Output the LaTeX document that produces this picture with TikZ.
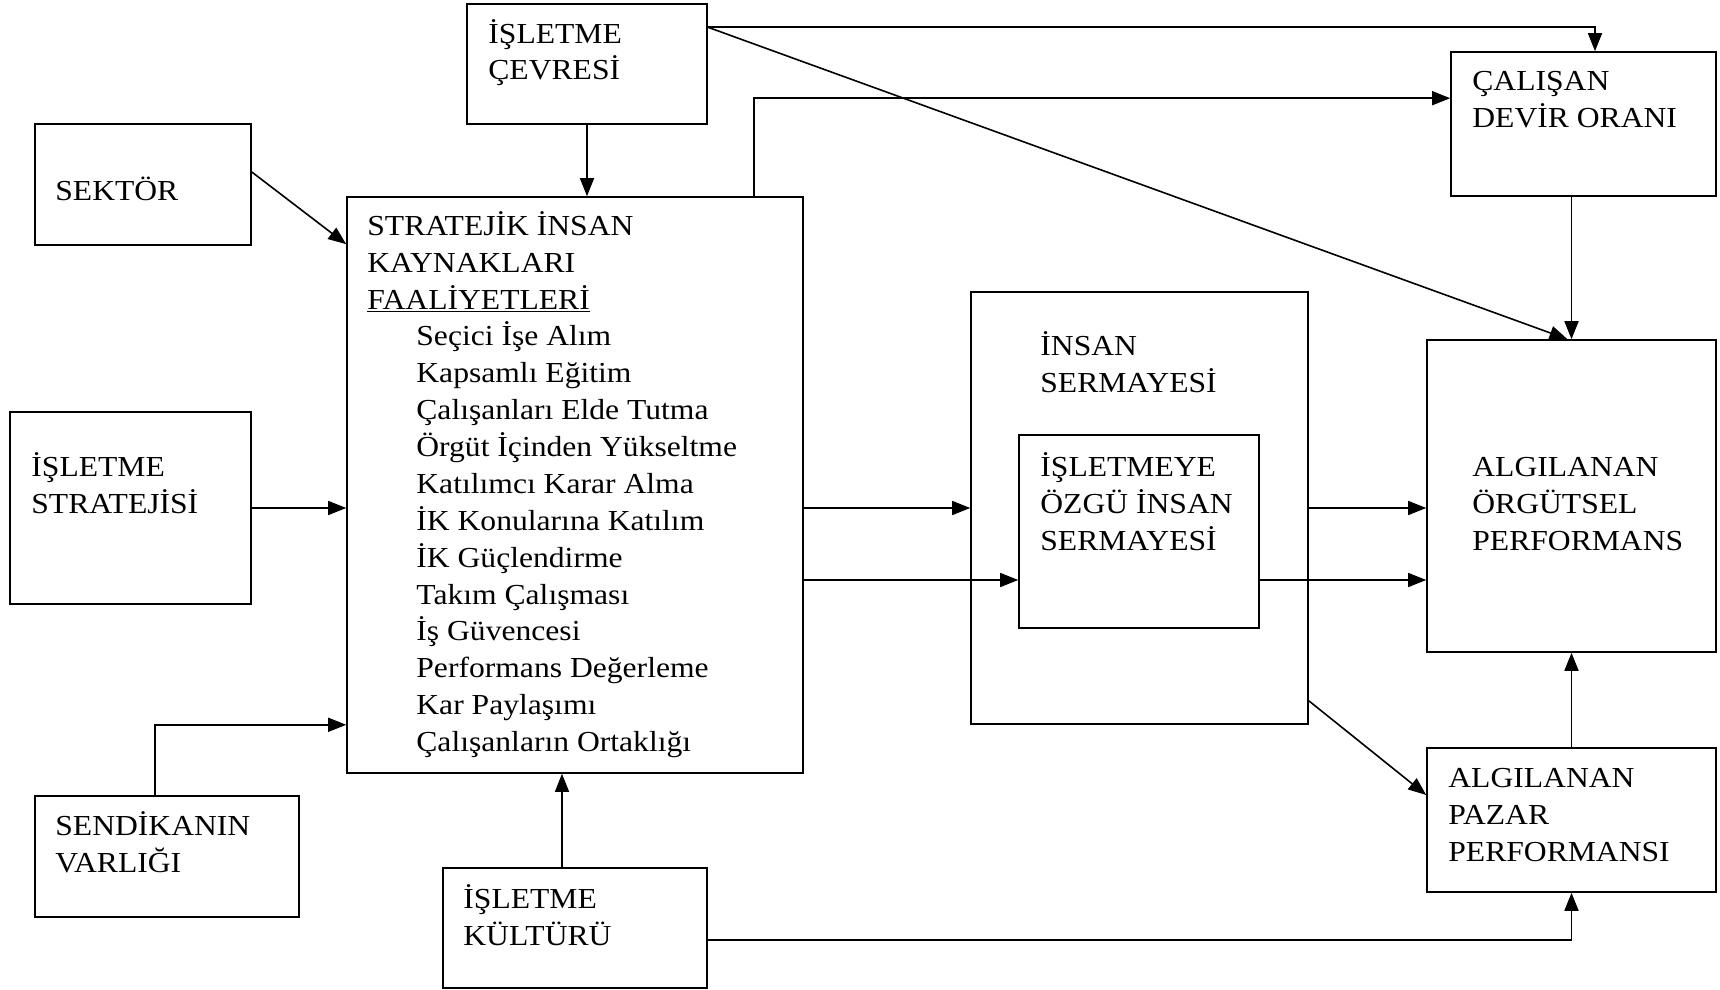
\documentclass[tikz,border=0pt]{standalone}
\usepackage{fontspec}
\setmainfont{Liberation Serif}[FakeStretch=1.09]
\usepackage{tikz}
\usetikzlibrary{arrows.meta, positioning, fit, calc}

\begin{document}
\begin{tikzpicture}[
    x=0.5pt, y=-0.5pt,
    box/.style={draw, line width=0.8pt, inner sep=0pt},
    lbl/.style={anchor=base west, align=left, inner sep=0pt, font=\fontsize{14.5}{18.45}\selectfont},
    arrow/.style={-{Triangle[length=9pt, width=7pt]}, line width=0.8pt}
]
    \useasboundingbox (0,0) rectangle (1720,990);

    % Boxes
    \node[box, fit={(467,4) (707,124)}] (cevre) {};
    \node[box, fit={(35,124) (251,245)}] (sektor) {};
    \node[box, fit={(10,412) (251,604)}] (strateji) {};
    \node[box, fit={(35,796) (299,917)}] (sendika) {};
    \node[box, fit={(443,868) (707,988)}] (kultur) {};
    \node[box, fit={(347,197) (803,773)}] (sihk) {};
    \node[box, fit={(1451,52) (1716,196)}] (cevir) {};
    \node[box, fit={(971,292) (1308,724)}] (insan) {};
    \node[box, fit={(1019,435) (1259,628)}] (ozgu) {};
    \node[box, fit={(1427,340) (1716,652)}] (orgut) {};
    \node[box, fit={(1427,748) (1716,892)}] (pazar) {};

    % Texts (placed at the baseline of their last line)
    \node[lbl] (cevrelbl) at (488,80) {İŞLETME\\ÇEVRESİ};
    \node[lbl] (sektorlbl) at (55,200) {SEKTÖR};
    \node[lbl] (stratejilbl) at (31,513) {İŞLETME\\STRATEJİSİ};
    \node[lbl] (sendikalbl) at (55,872) {SENDİKANIN\\VARLIĞI};
    \node[lbl] (kulturlbl) at (463,945) {İŞLETME\\KÜLTÜRÜ};
    \node[lbl] (sihklbl) at (367,309) {STRATEJİK İNSAN\\KAYNAKLARI\\\underline{FAALİYETLERİ}};
    \node[lbl] (sihklist) at (416,751.6) {Seçici İşe Alım\\Kapsamlı Eğitim\\Çalışanları Elde Tutma\\Örgüt İçinden Yükseltme\\Katılımcı Karar Alma\\İK Konularına Katılım\\İK Güçlendirme\\Takım Çalışması\\İş Güvencesi\\Performans Değerleme\\Kar Paylaşımı\\Çalışanların Ortaklığı};
    \node[lbl] (cevirlbl) at (1472,127) {ÇALIŞAN\\DEVİR ORANI};
    \node[lbl] (insanlbl) at (1040,392.4) {İNSAN\\SERMAYESİ};
    \node[lbl] (ozgulbl) at (1040,550) {İŞLETMEYE\\ÖZGÜ İNSAN\\SERMAYESİ};
    \node[lbl] (orgutlbl) at (1472,550) {ALGILANAN\\ÖRGÜTSEL\\PERFORMANS};
    \node[lbl] (pazarlbl) at (1448,861) {ALGILANAN\\PAZAR\\PERFORMANSI};

    % Helper points
    \coordinate (hi) at (0,508);
    \coordinate (lo) at (0,580);
    \coordinate (cevreout) at ($(cevre.north east)+(0,24)$);
    \coordinate (sihkout) at ($(sihk.north west)+(408,0)$);
    \coordinate (kulturout) at ($(kultur.north)+(-13,0)$);

    % Connections
    \draw[arrow] (cevre.south) -- (cevre.south |- sihk.north);
    \draw[arrow] ($(sektor.east)+(0,-12.5)$) -- ($(sihk.north west)+(0,48)$);
    \draw[arrow] (strateji.east) -- (strateji.east -| sihk.west);
    \draw[arrow] ($(sendika.north)+(-12,0)$) |- ($(sihk.south west)+(0,-49)$);
    \draw[arrow] (kulturout) -- (kulturout |- sihk.south);
    \draw[arrow] ($(kultur.east)+(0,12)$) -| (pazar.south);
    \draw[arrow] (cevreout) -| ($(cevir.north)+(11.5,0)$);
    \draw[arrow] (cevreout) -- ($(orgut.north)+(-4,0)$);
    \draw[arrow] (sihkout) |- ($(cevir.north west)+(0,47)$);
    \draw[arrow] (cevir.south -| orgut.north) -- (orgut.north);
    \draw[arrow] (hi -| sihk.east) -- (hi -| insan.west);
    \draw[arrow] (lo -| sihk.east) -- (lo -| ozgu.west);
    \draw[arrow] (hi -| insan.east) -- (hi -| orgut.west);
    \draw[arrow] (lo -| ozgu.east) -- (lo -| orgut.west);
    \draw[arrow] ($(insan.south east)+(0,-24)$) -- ($(pazar.west)+(0,-25)$);
    \draw[arrow] (pazar.north) -- (orgut.south);

\end{tikzpicture}
\end{document}
